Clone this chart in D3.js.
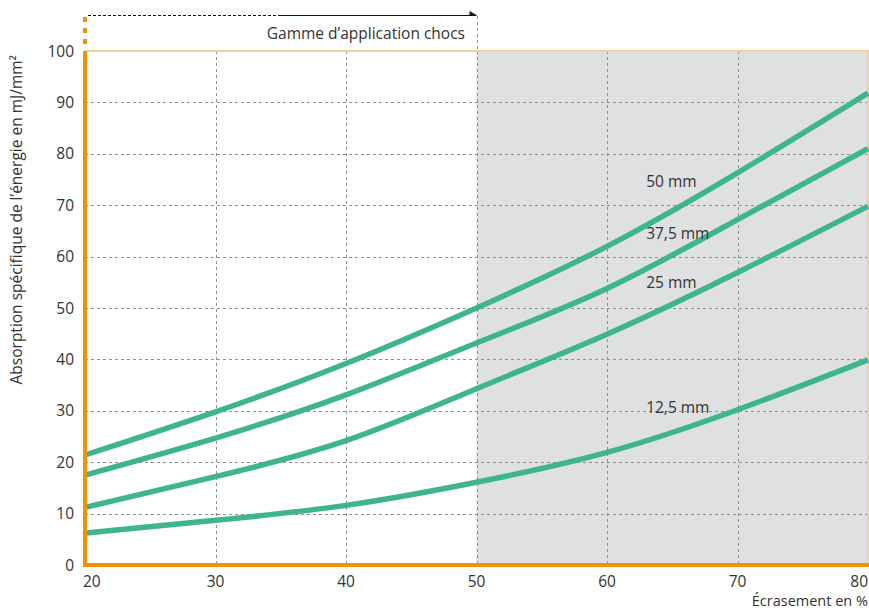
<!DOCTYPE html>
<html>
<head>
<meta charset="utf-8">
<script src="https://cdn.jsdelivr.net/npm/d3@7/dist/d3.min.js"></script>
<style>
  html, body { margin: 0; padding: 0; background: #fff; }
  svg { display: block; }
  text { font-family: "Open Sans", "Liberation Sans", sans-serif; fill: #333; }
</style>
</head>
<body>
<svg id="chart" width="869" height="610"></svg>
<script>
// ---- Data ----
const crushPct = [20, 30, 40, 50, 60, 70, 80];
const series50 = [21.4, 29.8, 39.2, 50.0, 62.0, 76.3, 91.8];
const series375 = [17.5, 24.7, 33.1, 43.2, 53.8, 67.2, 81.0];
const series25 = [11.2, 17.2, 24.2, 34.3, 44.9, 56.9, 69.8];
const series125 = [6.2, 8.7, 11.6, 16.1, 21.9, 30.2, 39.9];
const seriesNames = ["50 mm", "37,5 mm", "25 mm", "12,5 mm"];
const labelValues = [73.5, 63.4, 53.9, 29.5];
const xTicks = [20, 30, 40, 50, 60, 70, 80];
const yTicks = [0, 10, 20, 30, 40, 50, 60, 70, 80, 90, 100];
const shockRangeEnd = 50;

// ---- Layout ----
const svg = d3.select("#chart");
const pL = 85, pR = 868, pT = 51, pB = 565;
const x = d3.scaleLinear().domain([20, 80]).range([pL, pR]);
const y = d3.scaleLinear().domain([0, 100]).range([pB, pT]);

const orange = "#f39200";
const lightOrange = "#f7cf93";
const green = "#3fb58f";
const gridColor = "#8f8f8f";

// grey region
svg.append("rect")
  .attr("x", x(shockRangeEnd)).attr("y", y(100))
  .attr("width", x(80) - x(shockRangeEnd)).attr("height", y(0) - y(100))
  .attr("fill", "#dfe0e2");

// grid
const grid = svg.append("g");
grid.selectAll("line.h").data(yTicks.filter(d => d > 0 && d < 100)).enter().append("line")
  .attr("x1", pL).attr("x2", pR)
  .attr("y1", d => Math.round(y(d)) + 0.5).attr("y2", d => Math.round(y(d)) + 0.5)
  .attr("stroke", gridColor).attr("stroke-width", 1).attr("stroke-dasharray", "3,3");
grid.selectAll("line.v").data(xTicks.filter(d => d > 20 && d < 80)).enter().append("line")
  .attr("x1", d => Math.round(x(d)) + 0.5).attr("x2", d => Math.round(x(d)) + 0.5)
  .attr("y1", pT).attr("y2", pB)
  .attr("stroke", gridColor).attr("stroke-width", 1).attr("stroke-dasharray", "3,3");

// top range annotation vertical dashed line
svg.append("line")
  .attr("x1", Math.round(x(shockRangeEnd)) + 0.5).attr("x2", Math.round(x(shockRangeEnd)) + 0.5)
  .attr("y1", 16).attr("y2", pT)
  .attr("stroke", gridColor).attr("stroke-width", 1).attr("stroke-dasharray", "3,3");

// top & right light orange border
svg.append("line").attr("x1", pL).attr("x2", pR + 1).attr("y1", pT).attr("y2", pT)
  .attr("stroke", lightOrange).attr("stroke-width", 2);
svg.append("line").attr("x1", pR).attr("x2", pR).attr("y1", pT).attr("y2", pB)
  .attr("stroke", lightOrange).attr("stroke-width", 2);

// curves
const allSeries = [series50, series375, series25, series125];
const line = d3.line()
  .x((d, i) => x(crushPct[i]))
  .y(d => y(d))
  .curve(d3.curveNatural);
svg.append("g").selectAll("path").data(allSeries).enter().append("path")
  .attr("d", d => line(d))
  .attr("fill", "none")
  .attr("stroke", green)
  .attr("stroke-width", 5.5)
  .attr("stroke-linecap", "butt");

// curve labels
svg.append("g").selectAll("text").data(seriesNames).enter().append("text")
  .attr("x", x(63))
  .attr("y", (d, i) => y(labelValues[i]))
  .attr("font-size", 15.5)
  .text(d => d);

// axes lines (orange)
svg.append("line").attr("x1", pL).attr("x2", pL).attr("y1", pT).attr("y2", pB + 2)
  .attr("stroke", orange).attr("stroke-width", 4);
svg.append("line").attr("x1", pL - 2).attr("x2", pR + 1).attr("y1", pB).attr("y2", pB)
  .attr("stroke", orange).attr("stroke-width", 4);
// orange dotted extension
svg.append("line").attr("x1", pL).attr("x2", pL).attr("y1", 17).attr("y2", 45)
  .attr("stroke", orange).attr("stroke-width", 4).attr("stroke-dasharray", "5,6");

// y tick labels
svg.append("g").selectAll("text").data(yTicks).enter().append("text")
  .attr("x", 74).attr("y", d => y(d))
  .attr("dy", "0.36em")
  .attr("text-anchor", "end")
  .attr("font-size", 15.5)
  .text(d => d);

// x tick labels
svg.append("g").selectAll("text").data(xTicks).enter().append("text")
  .attr("x", (d, i) => i === 0 ? 83 : (i === xTicks.length - 1 ? pR : x(d)))
  .attr("y", 587)
  .attr("text-anchor", (d, i) => i === 0 ? "start" : (i === xTicks.length - 1 ? "end" : "middle"))
  .attr("font-size", 15.5)
  .text(d => d);

// axis titles
svg.append("text")
  .attr("x", pR).attr("y", 606)
  .attr("text-anchor", "end")
  .attr("font-size", 14.5)
  .text("Écrasement en %");

svg.append("text")
  .attr("transform", "translate(22,55) rotate(-90)")
  .attr("text-anchor", "end")
  .attr("font-size", 15.5)
  .text("Absorption spécifique de l’énergie en mJ/mm²");

// top annotation arrow
svg.append("line").attr("x1", 88).attr("x2", 278).attr("y1", 15.5).attr("y2", 15.5)
  .attr("stroke", "#111").attr("stroke-width", 1).attr("stroke-dasharray", "3,2");
svg.append("line").attr("x1", 278).attr("x2", x(shockRangeEnd)).attr("y1", 15.5).attr("y2", 15.5)
  .attr("stroke", "#111").attr("stroke-width", 1);
svg.append("path")
  .attr("d", `M${x(shockRangeEnd) - 7},11 L${x(shockRangeEnd)},15 L${x(shockRangeEnd) - 7},16 Z`)
  .attr("fill", "#111");
svg.append("text")
  .attr("x", 465).attr("y", 39)
  .attr("text-anchor", "end")
  .attr("font-size", 15.5)
  .text("Gamme d’application chocs");
</script>
</body>
</html>
